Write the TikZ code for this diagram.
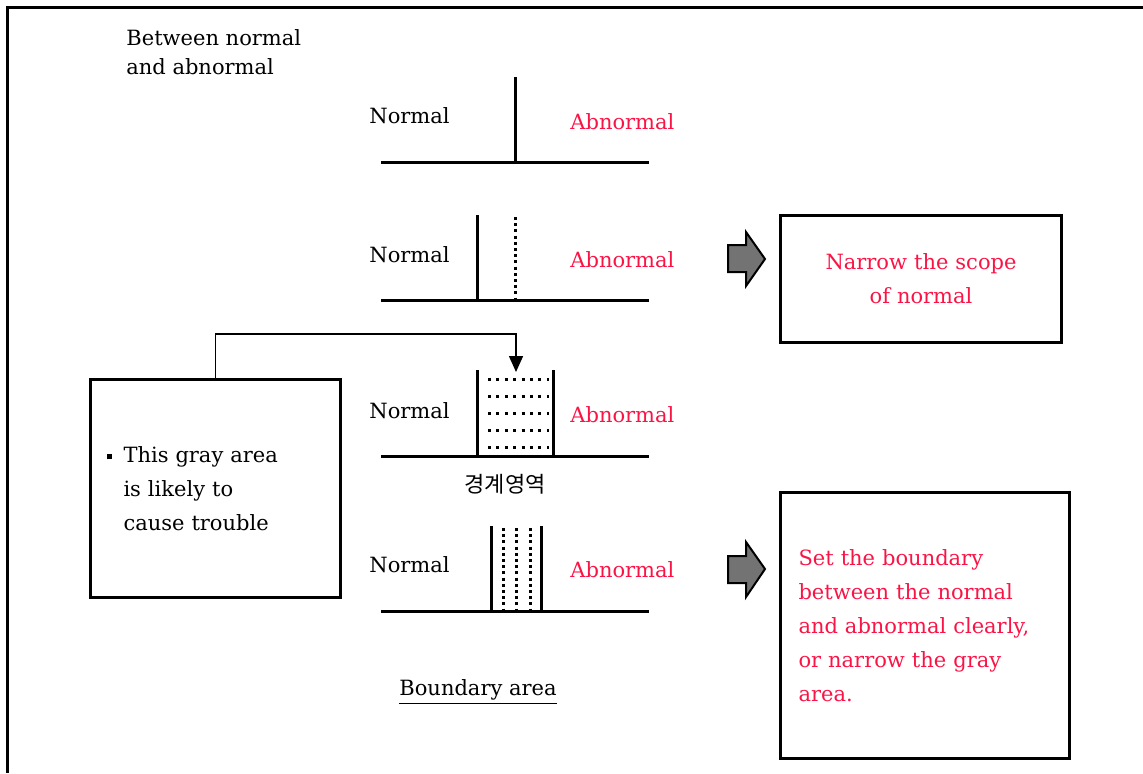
\documentclass[tikz,border=0pt]{standalone}
\usepackage{fontspec}
\setmainfont{DejaVu Serif}
\newfontfamily\kofont{Noto Sans CJK KR}
\usetikzlibrary{arrows.meta}
\definecolor{abred}{RGB}{250,20,70}
\tikzstyle{lbl}=[inner sep=0pt, anchor=west]
\tikzstyle{bad}=[lbl, text=abred]
\tikzstyle{base}=[line width=1.5pt]
\tikzstyle{spot}=[line width=1.5pt, dash pattern=on 1.5pt off 1.6pt]
\tikzstyle{panel}=[draw, line width=1.5pt, anchor=north west, inner ysep=0pt]
\tikzstyle{fat}=[draw, line width=1pt, fill=black!55, line join=miter]

\begin{document}
\begin{tikzpicture}[x=0.5pt, y=-0.5pt, font=\fontsize{10.5}{17}\selectfont]
                \useasboundingbox (0,0) rectangle (1143,773);
                \draw[base] (7,773) -- (7,7) -- (1143,7);
                \node[lbl, align=left, font=\fontsize{10.5}{14.5}\selectfont] (title) at (126,52) {Between normal\\and abnormal};
                % one line
                \node[lbl] (n1) at (369,116) {Normal};
                \node[bad] (a1) at (570,122) {Abnormal};
                \draw[base] (381,162) -- (649,162);
                \draw[base] (515,77) -- (515,162);
                % narrowed normal
                \node[lbl] (n2) at (369,255) {Normal};
                \node[bad] (a2) at (570,260) {Abnormal};
                \draw[base] (381,300) -- (649,300);
                \draw[base] (477,215) -- (477,300);
                \draw[spot] (515,217) -- (515,300);
                % gray area
                \node[lbl] (n3) at (369,411) {Normal};
                \node[bad] (a3) at (570,415) {Abnormal};
                \draw[base] (381,456) -- (649,456);
                \draw[base] (477,370) -- (477,456);
                \draw[base] (553,370) -- (553,456);
                \draw[spot, dash pattern=on 1.5pt off 2.7pt] (488,379) -- (549,379);
                \draw[spot, dash pattern=on 1.5pt off 2.7pt] (488,396) -- (549,396);
                \draw[spot, dash pattern=on 1.5pt off 2.7pt] (488,413) -- (549,413);
                \draw[spot, dash pattern=on 1.5pt off 2.7pt] (488,430) -- (549,430);
                \draw[spot, dash pattern=on 1.5pt off 2.7pt] (488,447) -- (549,447);
                \node[inner sep=0pt, font=\kofont\fontsize{11}{13}\selectfont] (ko) at (505,484) {경계영역};
                % boundary
                \node[lbl] (n4) at (369,565) {Normal};
                \node[bad] (a4) at (570,570) {Abnormal};
                \draw[base] (381,611) -- (649,611);
                \draw[base] (491,526) -- (491,611);
                \draw[base] (541,526) -- (541,611);
                \draw[spot] (503,528) -- (503,611);
                \draw[spot] (516,528) -- (516,611);
                \draw[spot] (530,528) -- (530,611);
                \node[inner sep=0pt] (bnd) at (478,692) {\underline{Boundary area}};
                % boxes
                \node[panel, minimum width=125pt, minimum height=109pt, text width=109pt, inner xsep=8pt, align=left] (gray) at (89,378)
                    {\makebox[8.5pt][l]{\raisebox{1.5pt}{\rule{2.5pt}{2.5pt}}}This gray area\\\hspace*{8.5pt}is likely to\\\hspace*{8.5pt}cause trouble};
                \node[panel, minimum width=140.5pt, minimum height=63.5pt, text width=124pt, align=center, text=abred] (scope) at (779,214)
                    {Narrow the scope\\of normal};
                \node[panel, minimum width=144.5pt, minimum height=133pt, text width=126.5pt, inner xsep=9pt, align=left, text=abred] (clear) at (779,491)
                    {Set the boundary\\between the normal\\and abnormal clearly,\\or narrow the gray\\area.};
                \coordinate (drop) at (516,372);
                \draw[line width=0.75pt, -{Triangle[width=7pt,length=8pt]}] (gray.north) -- ++(0,-44) -| (drop);
                % fat arrows
                \draw[fat] (728,245) -- (746,245) -- (746,232) -- (765,259) -- (746,286) -- (746,272) -- (728,272) -- cycle;
                \draw[fat] (728,556) -- (746,556) -- (746,542) -- (765,569) -- (746,597) -- (746,583) -- (728,583) -- cycle;
            \end{tikzpicture}
\end{document}
